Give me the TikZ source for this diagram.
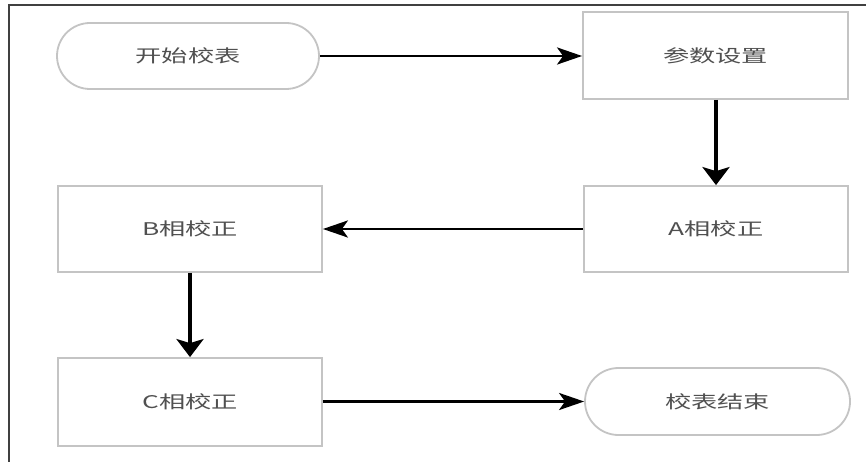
\documentclass[tikz,border=0pt]{standalone}
\usepackage{fontspec}
\newfontfamily\cjk[FakeStretch=1.5]{Noto Sans CJK SC}
\usetikzlibrary{shapes.misc,arrows.meta}
\definecolor{boxline}{HTML}{C4C4C4}
\definecolor{txt}{HTML}{505050}
\definecolor{frame}{HTML}{404040}
\begin{document}
\begin{tikzpicture}[x=1pt,y=-1pt,
  procbox/.style={draw=boxline,line width=1.8pt,fill=white,rectangle,inner sep=0pt,
    minimum width=264pt,minimum height=86pt,text=txt,font=\cjk\fontsize{17.5}{20}\selectfont},
  termbox/.style={draw=boxline,line width=1.8pt,fill=white,rounded rectangle,inner sep=0pt,
    minimum width=262pt,minimum height=66pt,text=txt,font=\cjk\fontsize{17.5}{20}\selectfont},
  hflow/.style={line width=2.8pt,black,-{Stealth[length=25pt,width=17pt,inset=6pt]}},
  vflow/.style={line width=4.5pt,black,-{Stealth[length=18pt,width=27pt,inset=4pt]}}]
\useasboundingbox (0,0) rectangle (866,462);
\fill[white] (0,0) rectangle (866,462);
\draw[frame,line width=2.4pt] (9,462) -- (9,5) -- (866,5);
\node[termbox] (start) at (188,56) {开始校表};
\node[procbox,minimum width=265pt,minimum height=87pt] (param) at (715.5,55.5) {参数设置};
\node[procbox] (A) at (716,229) {A相校正};
\node[procbox] (B) at (190,229) {B相校正};
\node[procbox,minimum height=88pt] (C) at (190,402) {C相校正};
\node[termbox,minimum width=265pt,minimum height=67pt] (end) at (717.5,401.5) {校表结束};
\draw[hflow] (start.east) -- (param.west|-start.east);
\draw[vflow] (param.south-|A.north) -- (A.north);
\draw[hflow] (A.west) -- (B.east);
\draw[vflow] (B.south) -- (C.north);
\draw[hflow] (C.east|-end.west) -- (end.west);
\end{tikzpicture}
\end{document}
